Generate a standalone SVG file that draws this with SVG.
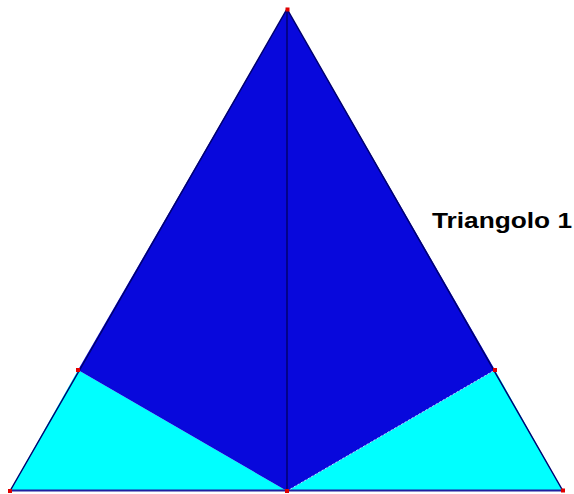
<svg xmlns="http://www.w3.org/2000/svg" width="574" height="494" viewBox="0 0 574 494">
  <style>
    .dark { fill: #0808DC; }
    .light { fill: #00FFFF; }
    .edge { stroke: #000070; stroke-width: 1.5; fill: none; }
    .vert { fill: #E00000; }
    .label { font-family: "Liberation Sans", Arial, sans-serif; font-weight: bold; font-size: 22px; fill: #000000; }
  </style>
  <rect width="574" height="494" fill="#FFFFFF"/>
  <g id="shapes">
    <polygon class="light" points="10,491 78,370 287,491"/>
    <polygon class="light" points="287,491 495,370 563,491"/>
    <polygon class="dark" points="287,9 78,370 287,491 495,370"/>
  </g>
  <g id="edges">
    <polyline class="edge" points="10,491 287,9 563,491"/>
    <line class="edge" x1="287" y1="9" x2="287" y2="491" stroke="#000040"/>
    <line x1="10" y1="490.5" x2="563" y2="490.5" stroke="#2020A0" stroke-width="2"/>
    <line x1="287" y1="491" x2="495" y2="370" stroke="#B0E0FF" stroke-width="1" stroke-dasharray="2,2"/>
  </g>
  <g id="vertices">
    <rect class="vert" x="285.5" y="7.5" width="4" height="4"/>
    <rect class="vert" x="8" y="489" width="4" height="4"/>
    <rect class="vert" x="561" y="488.5" width="4" height="4"/>
    <rect class="vert" x="285" y="489" width="4" height="4"/>
    <rect class="vert" x="76" y="368" width="4" height="4"/>
    <rect class="vert" x="493" y="368" width="4" height="4"/>
  </g>
  <text class="label" x="432" y="228" textLength="140" lengthAdjust="spacingAndGlyphs">Triangolo 1</text>
</svg>
